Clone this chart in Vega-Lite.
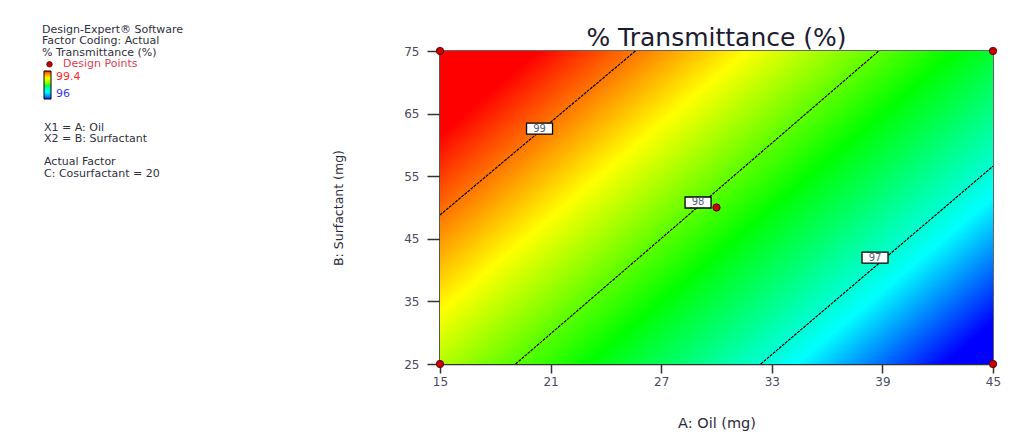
{
  "$schema": "https://vega.github.io/schema/vega-lite/v6.json",
  "width": 553,
  "height": 313,
  "autosize": "none",
  "padding": {"left": 440, "top": 51, "right": 38, "bottom": 74},
  "background": "white",
  "config": {
    "font": "DejaVu Sans",
    "view": {"stroke": "#333333", "strokeWidth": 1.5},
    "axis": {
      "grid": false,
      "domainColor": "#333333",
      "domainWidth": 1.5,
      "tickColor": "#333333",
      "tickWidth": 1.5,
      "labelFont": "DejaVu Sans",
      "labelFontSize": 12,
      "labelColor": "#4a4a5e",
      "labelFlush": false,
      "titleFont": "DejaVu Sans",
      "titleFontWeight": "normal",
      "titleColor": "#2a2a3a"
    }
  },
  "title": {
    "text": "% Transmittance (%)",
    "font": "DejaVu Sans",
    "fontSize": 25,
    "fontWeight": "normal",
    "color": "#1c1c30",
    "anchor": "middle",
    "frame": "group",
    "offset": 4,
    "dy": 31
  },
  "datasets": {
    "frame": [{"a0": 15, "a1": 45, "b0": 25, "b1": 75}],
    "contours": [
      {"level": 99, "a": 15, "b": 48.8},
      {"level": 99, "a": 25.6, "b": 75},
      {"level": 98, "a": 19.1, "b": 25},
      {"level": 98, "a": 38.8, "b": 75},
      {"level": 97, "a": 32.4, "b": 25},
      {"level": 97, "a": 45, "b": 56.6}
    ],
    "labels": [
      {"level": 99, "a": 20.4, "b": 62.6},
      {"level": 98, "a": 29.0, "b": 50.8},
      {"level": 97, "a": 38.6, "b": 42.0}
    ],
    "points": [
      {"kind": "Design Points", "a": 15, "b": 75, "t": 99.4},
      {"kind": "Design Points", "a": 45, "b": 75, "t": 97.6},
      {"kind": "Design Points", "a": 15, "b": 25, "t": 98.3},
      {"kind": "Design Points", "a": 45, "b": 25, "t": 96},
      {"kind": "Design Points", "a": 30, "b": 50, "t": 97.9}
    ]
  },
  "layer": [
    {
      "data": {"name": "frame"},
      "mark": {
        "type": "rect",
        "fill": {
          "gradient": "linear",
          "x1": 0, "y1": 0, "x2": 1.154, "y2": 0.769,
          "stops": [
            {"offset": 0, "color": "#ff0000"},
            {"offset": 0.107, "color": "#ff0000"},
            {"offset": 0.333, "color": "#ffff00"},
            {"offset": 0.56, "color": "#00ff00"},
            {"offset": 0.787, "color": "#00ffff"},
            {"offset": 0.947, "color": "#0000ff"},
            {"offset": 1, "color": "#0000ff"}
          ]
        }
      },
      "encoding": {
        "x": {
          "field": "a0", "type": "quantitative",
          "scale": {"domain": [15, 45], "nice": false, "zero": false},
          "axis": {
            "values": [15, 21, 27, 33, 39, 45],
            "title": "A: Oil (mg)",
            "titleFontSize": 14.5,
            "titlePadding": 29,
            "tickSize": 9,
            "labelPadding": 3
          }
        },
        "x2": {"field": "a1"},
        "y": {
          "field": "b0", "type": "quantitative",
          "scale": {"domain": [25, 75], "nice": false, "zero": false},
          "axis": {
            "values": [25, 35, 45, 55, 65, 75],
            "title": "B: Surfactant (mg)",
            "titleFontSize": 12.5,
            "titlePadding": 58,
            "tickSize": 13,
            "labelPadding": 8
          }
        },
        "y2": {"field": "b1"}
      }
    },
    {
      "data": {"name": "contours"},
      "mark": {"type": "line", "color": "#000000", "strokeWidth": 1.2, "strokeDash": [3, 1]},
      "encoding": {
        "x": {"field": "a", "type": "quantitative"},
        "y": {"field": "b", "type": "quantitative"},
        "detail": {"field": "level", "type": "nominal"}
      }
    },
    {
      "data": {"name": "labels"},
      "mark": {
        "type": "point",
        "shape": "M-1,-0.423H1V0.423H-1Z",
        "size": 676,
        "filled": true,
        "fill": "#ffffff",
        "stroke": "#000000",
        "strokeWidth": 1.3,
        "opacity": 1
      },
      "encoding": {
        "x": {"field": "a", "type": "quantitative"},
        "y": {"field": "b", "type": "quantitative"}
      }
    },
    {
      "data": {"name": "labels"},
      "mark": {"type": "text", "fontSize": 10, "color": "#50607a", "align": "center", "baseline": "middle"},
      "encoding": {
        "x": {"field": "a", "type": "quantitative"},
        "y": {"field": "b", "type": "quantitative"},
        "text": {"field": "level", "type": "nominal"}
      }
    },
    {
      "data": {"name": "points"},
      "mark": {"type": "point", "shape": "circle", "filled": true, "size": 55, "stroke": "#4a0000", "strokeWidth": 0.8, "opacity": 1},
      "encoding": {
        "x": {"field": "a", "type": "quantitative"},
        "y": {"field": "b", "type": "quantitative"},
        "fill": {
          "field": "kind", "type": "nominal",
          "scale": {"range": ["#c80000"]},
          "legend": {
            "orient": "none",
            "legendX": -398,
            "legendY": -27,
            "title": ["Design-Expert® Software", "Factor Coding: Actual", "% Transmittance (%)"],
            "titleFont": "DejaVu Sans",
            "titleFontSize": 11,
            "titleFontWeight": "normal",
            "titleColor": "#303040",
            "titleLineHeight": 11.4,
            "titlePadding": 1,
            "labelFont": "DejaVu Sans",
            "labelFontSize": 11,
            "labelColor": "#e04058",
            "symbolType": "circle",
            "symbolSize": 30,
            "symbolStrokeColor": "#4a0000",
            "symbolStrokeWidth": 0.8,
            "symbolOffset": 2,
            "labelOffset": 8,
            "padding": 0
          }
        }
      }
    },
    {
      "data": {"name": "points"},
      "mark": {"type": "point", "shape": "circle", "filled": true, "size": 0, "opacity": 1, "strokeWidth": 0},
      "encoding": {
        "x": {"field": "a", "type": "quantitative"},
        "y": {"field": "b", "type": "quantitative"},
        "color": {
          "field": "t", "type": "quantitative",
          "scale": {"domain": [96, 99.4], "range": ["#0000ff", "#00ffff", "#00ff00", "#ffff00", "#ff0000"]},
          "legend": {
            "orient": "none",
            "direction": "vertical",
            "legendX": -396,
            "legendY": 20,
            "values": [96, 99.4],
            "format": ".1~f",
            "gradientLength": 28,
            "gradientThickness": 7,
            "gradientStrokeColor": "#000000",
            "gradientStrokeWidth": 1,
            "labelFont": "DejaVu Sans",
            "labelFontSize": 11,
            "labelOffset": 5,
            "labelColor": {"expr": "datum.value > 98 ? '#ff2a2a' : '#3838ff'"},
            "title": ["X1 = A: Oil", "X2 = B: Surfactant", "\u2800", "Actual Factor", "C: Cosurfactant = 20"],
            "titleOrient": "bottom",
            "titleAnchor": "start",
            "titleFont": "DejaVu Sans",
            "titleFontSize": 11,
            "titleFontWeight": "normal",
            "titleColor": "#303040",
            "titleLineHeight": 11.4,
            "titlePadding": 22,
            "padding": 0
          }
        }
      }
    }
  ]
}
